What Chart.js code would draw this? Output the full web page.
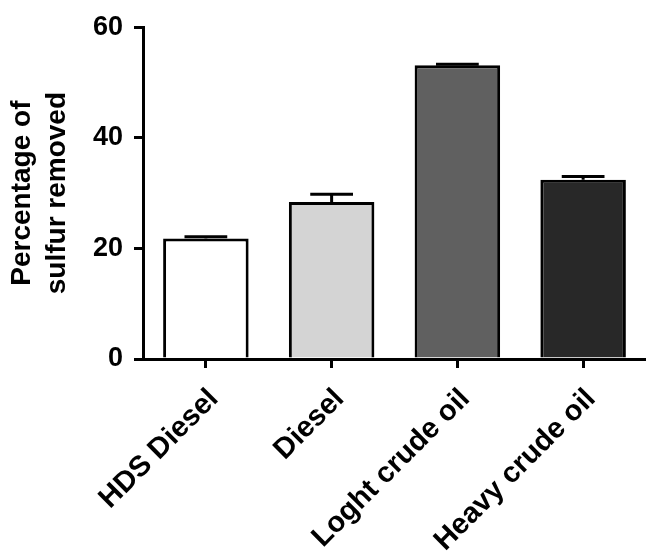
<!DOCTYPE html>
<html>
<head>
<meta charset="utf-8">
<script src="https://cdn.jsdelivr.net/npm/chart.js@4/dist/chart.umd.min.js"></script>
<style>
  html, body { margin: 0; padding: 0; background: #fff; }
  #wrap { width: 646px; height: 551px; position: relative; }
</style>
</head>
<body>
<div id="wrap"><canvas id="grafico"></canvas></div>
<script>
// datos
const categorias = ['HDS Diesel', 'Diesel', 'Loght crude oil', 'Heavy crude oil'];
const valores = [21.8, 28.4, 53.1, 32.4];
const errores = [0.3, 1.4, 0.2, 0.6];
const colores = ['#ffffff', '#d4d4d4', '#606060', '#282828'];
const ticksY = [0, 20, 40, 60];

const fuente = 'Liberation Sans, Arial, Helvetica, sans-serif';

// barras de error (solo hacia arriba)
const barrasError = {
    id: 'barrasError',
    afterDatasetsDraw(chart) {
        const ctx = chart.ctx;
        const meta = chart.getDatasetMeta(0);
        const y = chart.scales.y;
        ctx.save();
        ctx.strokeStyle = '#000';
        ctx.lineWidth = 3;
        meta.data.forEach((bar, i) => {
            const top = y.getPixelForValue(valores[i]);
            const tope = y.getPixelForValue(valores[i] + errores[i]);
            const half = bar.width / 4;
            ctx.beginPath();
            ctx.moveTo(bar.x, top);
            ctx.lineTo(bar.x, tope);
            ctx.moveTo(bar.x - half, tope);
            ctx.lineTo(bar.x + half, tope);
            ctx.stroke();
        });
        ctx.restore();
    }
};

new Chart(document.getElementById('grafico'), {
    type: 'bar',
    data: {
        labels: categorias,
        datasets: [{
            data: valores,
            backgroundColor: colores,
            borderColor: '#000',
            borderWidth: 3,
            categoryPercentage: 1,
            barPercentage: 0.68
        }]
    },
    options: {
        responsive: true,
        maintainAspectRatio: false,
        animation: false,
        layout: { padding: { top: 24, left: 0, right: -3, bottom: 0 } },
        plugins: {
            legend: { display: false },
            tooltip: { enabled: false }
        },
        scales: {
            x: {
                grid: {
                    offset: false,
                    drawOnChartArea: false,
                    drawTicks: true,
                    tickLength: 9,
                    color: '#000',
                    lineWidth: 3
                },
                border: { display: true, color: '#000', width: 3 },
                ticks: {
                    autoSkip: false,
                    minRotation: 45,
                    maxRotation: 45,
                    padding: 14,
                    labelOffset: 8,
                    color: '#000',
                    font: { family: fuente, size: 29, weight: 'bold' }
                },
                afterFit(scale) { scale.height = 192; }
            },
            y: {
                min: ticksY[0],
                max: ticksY[ticksY.length - 1],
                afterBuildTicks(scale) { scale.ticks = ticksY.map(v => ({ value: v })); },
                grid: {
                    drawOnChartArea: false,
                    drawTicks: true,
                    tickLength: 9,
                    color: '#000',
                    lineWidth: 3
                },
                border: { display: true, color: '#000', width: 3 },
                ticks: {
                    padding: 11,
                    color: '#000',
                    font: { family: fuente, size: 27, weight: 'bold' }
                },
                title: {
                    display: true,
                    text: ['Percentage of', 'sulfur removed'],
                    color: '#000',
                    padding: { top: 5, bottom: 0 },
                    font: { family: fuente, size: 28, weight: 'bold', lineHeight: 1.25 }
                },
                afterFit(scale) { scale.width = 143; }
            }
        }
    },
    plugins: [barrasError]
});
</script>
</body>
</html>
